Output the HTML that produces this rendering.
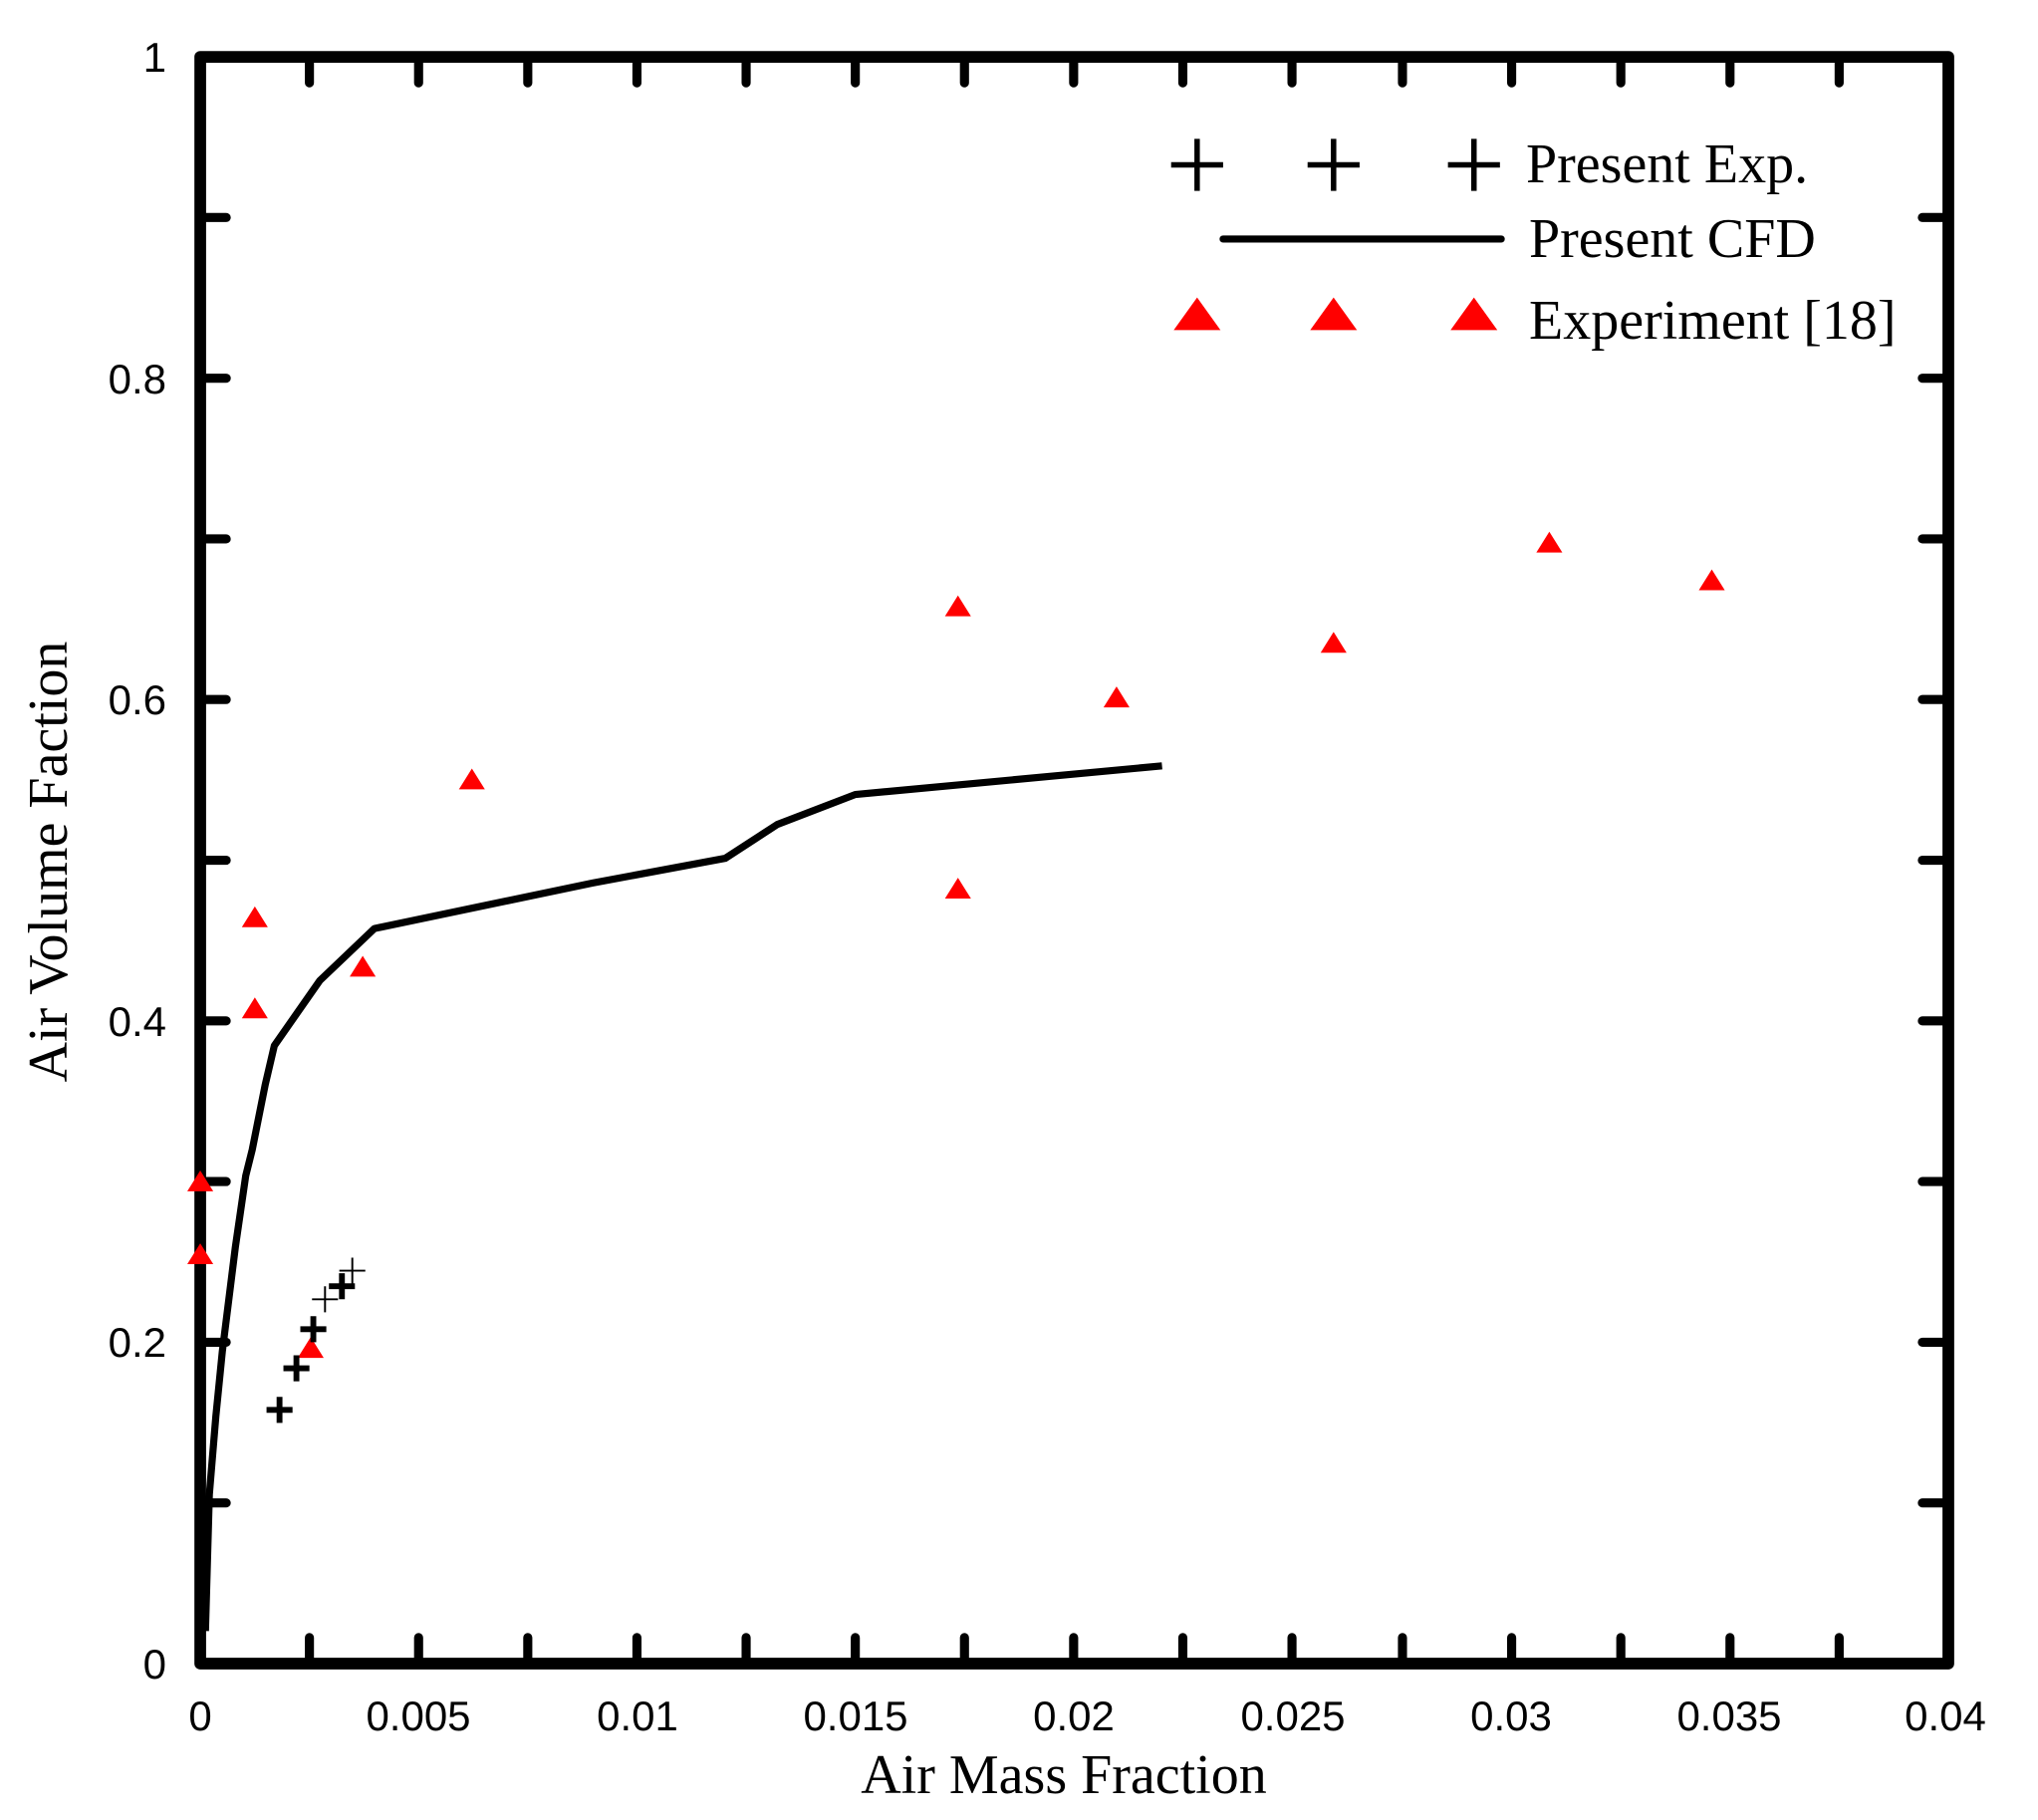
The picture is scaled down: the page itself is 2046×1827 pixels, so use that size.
<!DOCTYPE html>
<html><head><style>html,body{margin:0;padding:0;background:#fff}svg{display:block}</style></head>
<body>
<svg width="2046" height="1827" viewBox="0 0 2046 1827" xmlns="http://www.w3.org/2000/svg">
<rect width="2046" height="1827" fill="#fff"/>
<g transform="translate(1.4,-1.7) scale(1.3048,1.306)">
<!-- ticks -->
<g stroke="#000" stroke-width="7" stroke-linecap="round">
<path d="M237,1280v-20M321,1280v-20M405,1280v-20M489,1280v-20M573,1280v-20M657,1280v-20M741,1280v-20M825,1280v-20M909,1280v-20M993,1280v-20M1078,1280v-20M1162,1280v-20M1246,1280v-20M1330,1280v-20M1414,1280v-20"/>
<path d="M237,45v20M321,45v20M405,45v20M489,45v20M573,45v20M657,45v20M741,45v20M825,45v20M909,45v20M993,45v20M1078,45v20M1162,45v20M1246,45v20M1330,45v20M1414,45v20"/>
<path d="M153,1156.5h20M153,1033h20M153,909.5h20M153,786h20M153,662.5h20M153,539h20M153,415.5h20M153,292h20M153,168.5h20"/>
<path d="M1498,1156.5h-20M1498,1033h-20M1498,909.5h-20M1498,786h-20M1498,662.5h-20M1498,539h-20M1498,415.5h-20M1498,292h-20M1498,168.5h-20"/>
</g>
<rect x="153" y="45" width="1345" height="1235" fill="none" stroke="#000" stroke-width="9" stroke-linejoin="round"/>
<!-- CFD -->
<polyline fill="none" stroke="#000" stroke-width="5.5" stroke-linejoin="round" points="157,1255 160,1150 165,1090 170,1040 180,960 188,905 193,885 198,860 203,835 210,805 245,755 287,715 455,680 557,661 597,635 657,612 893,590"/>
<!-- triangles -->
<g fill="#ff0000">
<path d="M153,901l10,16h-20z"/><path d="M153,957l10,16h-20z"/>
<path d="M195,698l10,16h-20z"/><path d="M195,768l10,16h-20z"/>
<path d="M238,1029l10,16h-20z"/><path d="M278,736l10,16h-20z"/>
<path d="M362,592l10,16h-20z"/><path d="M736,459l10,16h-20z"/>
<path d="M736,676l10,16h-20z"/><path d="M858,529l10,16h-20z"/>
<path d="M1025,487l10,16h-20z"/><path d="M1191,410l10,16h-20z"/>
<path d="M1316,439l10,16h-20z"/>
</g>
<!-- crosses -->
<g stroke="#000" stroke-width="4.5">
<path d="M204,1085h20M214,1075v20"/>
<path d="M217,1053h20M227,1043v20"/>
<path d="M230,1023h20M240,1013v20"/>
<path d="M252,990h20M262,980v20"/>
</g>
<g stroke="#000" stroke-width="1.5">
<path d="M239,1000h20M249,990v20M260,978h20M270,968v20"/>
</g>
<!-- legend markers -->
<g stroke="#000" stroke-width="4.2">
<path d="M900,128h40M920,108v40M1005,128h40M1025,108v40M1113,128h40M1133,108v40"/>
</g>
<line x1="940" y1="185" x2="1154" y2="185" stroke="#000" stroke-width="5.5" stroke-linecap="round"/>
<g fill="#ff0000">
<path d="M920,230l18,25h-36z"/><path d="M1025,230l18,25h-36z"/><path d="M1133,230l18,25h-36z"/>
</g>
</g>
<g font-family="'Liberation Serif',serif" font-size="56" fill="#000">
<text x="1532" y="183">Present Exp.</text>
<text x="1535" y="258">Present CFD</text>
<text x="1535" y="340">Experiment [18]</text>
<text x="1068" y="1800" text-anchor="middle">Air Mass Fraction</text>
<text transform="translate(67,865) rotate(-90)" text-anchor="middle">Air Volume Faction</text>
</g>
<g font-family="'Liberation Sans',sans-serif" font-size="42" fill="#000" text-anchor="middle">
<text x="201" y="1737">0</text>
<text x="420" y="1737">0.005</text>
<text x="640" y="1737">0.01</text>
<text x="859" y="1737">0.015</text>
<text x="1078" y="1737">0.02</text>
<text x="1298" y="1737">0.025</text>
<text x="1517" y="1737">0.03</text>
<text x="1736" y="1737">0.035</text>
<text x="1953" y="1737">0.04</text>
</g>
<g font-family="'Liberation Sans',sans-serif" font-size="42" fill="#000" text-anchor="end">
<text x="167" y="1685">0</text>
<text x="167" y="1362">0.2</text>
<text x="167" y="1040">0.4</text>
<text x="167" y="717">0.6</text>
<text x="167" y="395">0.8</text>
<text x="167" y="72">1</text>
</g>
</svg>
</body></html>
